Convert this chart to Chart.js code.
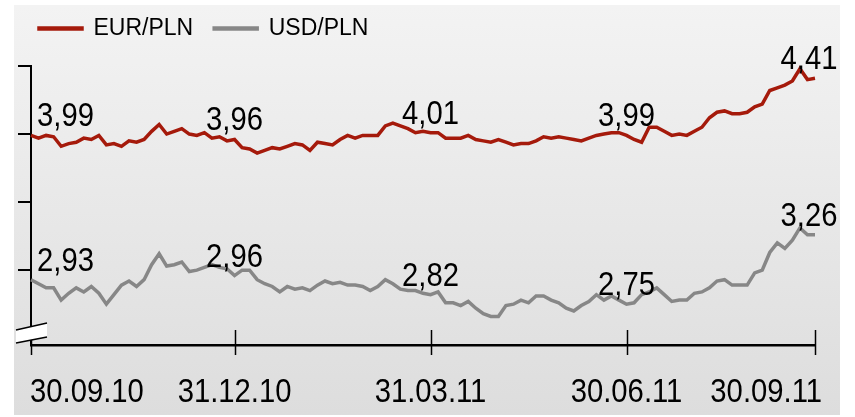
<!DOCTYPE html>
<html>
<head>
<meta charset="utf-8">
<script src="https://cdn.jsdelivr.net/npm/chart.js@4/dist/chart.umd.min.js"></script>
<style>
  html, body { margin: 0; padding: 0; background: #fff; }
  #wrap { position: relative; width: 855px; height: 417px; }
  #bg { position: absolute; left: 14px; top: 5px; width: 826px; height: 410px;
        background: linear-gradient(#f3f3f3, #dddddd); }
  #c { position: absolute; left: 0; top: 0; }
</style>
</head>
<body>
<div id="wrap">
  <div id="bg"></div>
  <canvas id="c" width="855" height="417"></canvas>
</div>
<script>
// series names
const seriesNames = ["EUR/PLN", "USD/PLN"];

// daily quotes, 30.09.10 - 30.09.11
const eurPln = [
  3.99, 3.97, 3.99, 3.98, 3.91, 3.93, 3.94, 3.97, 3.96, 3.99,
  3.92, 3.93, 3.91, 3.95, 3.94, 3.96, 4.02, 4.07, 4.00, 4.02,
  4.04, 4.00, 3.99, 4.01, 3.97, 3.98, 3.95, 3.96, 3.90, 3.89,
  3.86, 3.88, 3.90, 3.89, 3.91, 3.93, 3.92, 3.88, 3.94, 3.93,
  3.92, 3.96, 3.99, 3.97, 3.99, 3.99, 3.99, 4.06, 4.08, 4.06,
  4.04, 4.01, 4.02, 4.01, 4.01, 3.97, 3.97, 3.97, 3.99, 3.96,
  3.95, 3.94, 3.96, 3.94, 3.92, 3.93, 3.93, 3.95, 3.98, 3.97,
  3.98, 3.97, 3.96, 3.95, 3.97, 3.99, 4.00, 4.01, 4.01, 3.99,
  3.96, 3.94, 4.05, 4.05, 4.02, 3.99, 4.00, 3.99, 4.02, 4.05,
  4.12, 4.16, 4.17, 4.15, 4.15, 4.16, 4.20, 4.22, 4.32, 4.34,
  4.36, 4.39, 4.48, 4.40, 4.41
];
const usdPln = [
  2.93, 2.90, 2.87, 2.87, 2.78, 2.83, 2.87, 2.84, 2.88, 2.83,
  2.75, 2.82, 2.89, 2.92, 2.88, 2.93, 3.04, 3.12, 3.03, 3.04,
  3.06, 2.99, 3.00, 3.02, 3.04, 3.02, 3.01, 2.96, 3.00, 3.00,
  2.93, 2.90, 2.88, 2.84, 2.88, 2.86, 2.87, 2.85, 2.89, 2.92,
  2.90, 2.91, 2.89, 2.89, 2.88, 2.85, 2.88, 2.93, 2.90, 2.86,
  2.85, 2.85, 2.83, 2.82, 2.84, 2.76, 2.76, 2.74, 2.77, 2.72,
  2.68, 2.66, 2.66, 2.74, 2.75, 2.78, 2.76, 2.81, 2.81, 2.78,
  2.76, 2.72, 2.70, 2.74, 2.77, 2.82, 2.78, 2.81, 2.78, 2.75,
  2.76, 2.82, 2.84, 2.87, 2.82, 2.77, 2.78, 2.78, 2.83, 2.84,
  2.87, 2.92, 2.93, 2.89, 2.89, 2.89, 2.98, 3.00, 3.13, 3.20,
  3.16, 3.22, 3.31, 3.26, 3.26
];

// x axis: session index of each dated tick and its label
const tickIdx = [0, 27, 53, 79, 104];
const tickLabels = ["30.09.10", "31.12.10", "31.03.11", "30.06.11", "30.09.11"];
// y axis tick marks (no labels shown)
const yTicks = [3.0, 3.5, 4.0, 4.5];
// sessions that get a value note
const noteIdx = [0, 27, 53, 79, 104];

// Arial Narrow look: Liberation Sans squeezed horizontally
const squeeze = 0.86;
const bigFont = "34px 'Liberation Sans', Arial, sans-serif";

function toPoints(arr) {
    return arr.map((v, i) => ({ x: i, y: v }));
}

// draw text squeezed; align = left/center/right relative to x
function narrowText(ctx, text, x, y, align) {
    const w = ctx.measureText(text).width * squeeze;
    let left = x;
    if (align === "center") left = x - w / 2;
    if (align === "right") left = x - w;
    ctx.save();
    ctx.translate(left, y);
    ctx.scale(squeeze, 1);
    ctx.textAlign = "left";
    ctx.fillText(text, 0, 0);
    ctx.restore();
}

// value notes above the lines
const notesPlugin = {
    id: "notes",
    afterDatasetsDraw(chart) {
        const ctx = chart.ctx;
        const xs = chart.scales.x, ys = chart.scales.y;
        ctx.save();
        ctx.font = bigFont;
        ctx.fillStyle = "#000";
        ctx.textBaseline = "alphabetic";
        chart.data.datasets.forEach(ds => {
            noteIdx.forEach((idx, k) => {
                const v = ds.data[idx].y;
                let x = xs.getPixelForValue(idx);
                const y = ys.getPixelForValue(v) - 9;
                let align = "center";
                if (k === 0) { align = "left"; x += 6; }
                if (k === noteIdx.length - 1) { x -= 6; }
                narrowText(ctx, v.toFixed(2).replace(".", ","), x, y, align);
            });
        });
        ctx.restore();
    }
};

// crossing tick marks + labels on the x axis and the axis-break sign
const axisDeco = {
    id: "axisDeco",
    afterDraw(chart) {
        const ctx = chart.ctx;
        const xs = chart.scales.x;
        const a = chart.chartArea;
        ctx.save();
        ctx.strokeStyle = "#000";
        ctx.lineWidth = 1.5;
        xs.ticks.forEach(t => {
            const x = Math.round(xs.getPixelForValue(t.value)) + 0.5;
            ctx.beginPath();
            ctx.moveTo(x, a.bottom - 15);
            ctx.lineTo(x, a.bottom + 10);
            ctx.stroke();
        });
        // tick labels: first starts at its tick, last ends just past it
        ctx.font = bigFont;
        ctx.fillStyle = "#000";
        ctx.textBaseline = "alphabetic";
        xs.ticks.forEach((t, i) => {
            const x = xs.getPixelForValue(t.value);
            let align = "center", dx = 0;
            if (i === 0) { align = "left"; dx = -1; }
            if (i === xs.ticks.length - 1) { align = "right"; dx = 7; }
            narrowText(ctx, tickLabels[i], x + dx, a.bottom + 57, align);
        });
        // axis break
        const l = a.left, b = a.bottom;
        ctx.fillStyle = "#fff";
        ctx.beginPath();
        ctx.moveTo(l - 15, b - 15);
        ctx.lineTo(l + 16, b - 22);
        ctx.lineTo(l + 16, b - 8);
        ctx.lineTo(l - 15, b - 2);
        ctx.closePath();
        ctx.fill();
        ctx.lineWidth = 1.5;
        ctx.beginPath();
        ctx.moveTo(l - 15, b - 15);
        ctx.lineTo(l + 16, b - 22);
        ctx.moveTo(l - 15, b - 2);
        ctx.lineTo(l + 16, b - 8);
        ctx.stroke();
        ctx.restore();
    }
};

// extra room between legend and plot
const legendGap = {
    id: "legendGap",
    beforeInit(chart) {
        const fit = chart.legend.fit;
        chart.legend.fit = function () {
            fit.bind(chart.legend)();
            this.height += 16;
        };
    }
};

new Chart(document.getElementById("c"), {
    type: "line",
    data: {
        datasets: [
            {
                label: seriesNames[0],
                data: toPoints(eurPln),
                borderColor: "#a51a0b",
                backgroundColor: "#a51a0b",
                borderWidth: 3.5,
                pointRadius: 0,
                tension: 0,
                clip: false
            },
            {
                label: seriesNames[1],
                data: toPoints(usdPln),
                borderColor: "#878787",
                backgroundColor: "#878787",
                borderWidth: 3.5,
                pointRadius: 0,
                tension: 0,
                clip: false
            }
        ]
    },
    options: {
        responsive: false,
        animation: false,
        devicePixelRatio: 1,
        layout: { padding: { left: 18, right: 40, top: -4, bottom: 72 } },
        plugins: {
            legend: {
                position: "top",
                align: "start",
                labels: {
                    boxWidth: 43,
                    boxHeight: 1,
                    padding: 21,
                    color: "#000",
                    font: { family: "'Liberation Sans', Arial, sans-serif", size: 23 }
                }
            },
            tooltip: { enabled: false }
        },
        scales: {
            x: {
                type: "linear",
                min: 0,
                max: eurPln.length - 1,
                afterBuildTicks: s => { s.ticks = tickIdx.map(v => ({ value: v })); },
                grid: { display: false, drawTicks: false },
                border: { display: true, color: "#000", width: 2.5 },
                ticks: { display: false }
            },
            y: {
                min: 2.45,
                max: 4.5,
                afterBuildTicks: s => { s.ticks = yTicks.map(v => ({ value: v })); },
                grid: {
                    drawOnChartArea: false,
                    drawTicks: true,
                    tickLength: 13,
                    color: "#000",
                    lineWidth: 2
                },
                border: { display: true, color: "#000", width: 2 },
                ticks: { display: false }
            }
        }
    },
    plugins: [notesPlugin, axisDeco, legendGap]
});
</script>
</body>
</html>
